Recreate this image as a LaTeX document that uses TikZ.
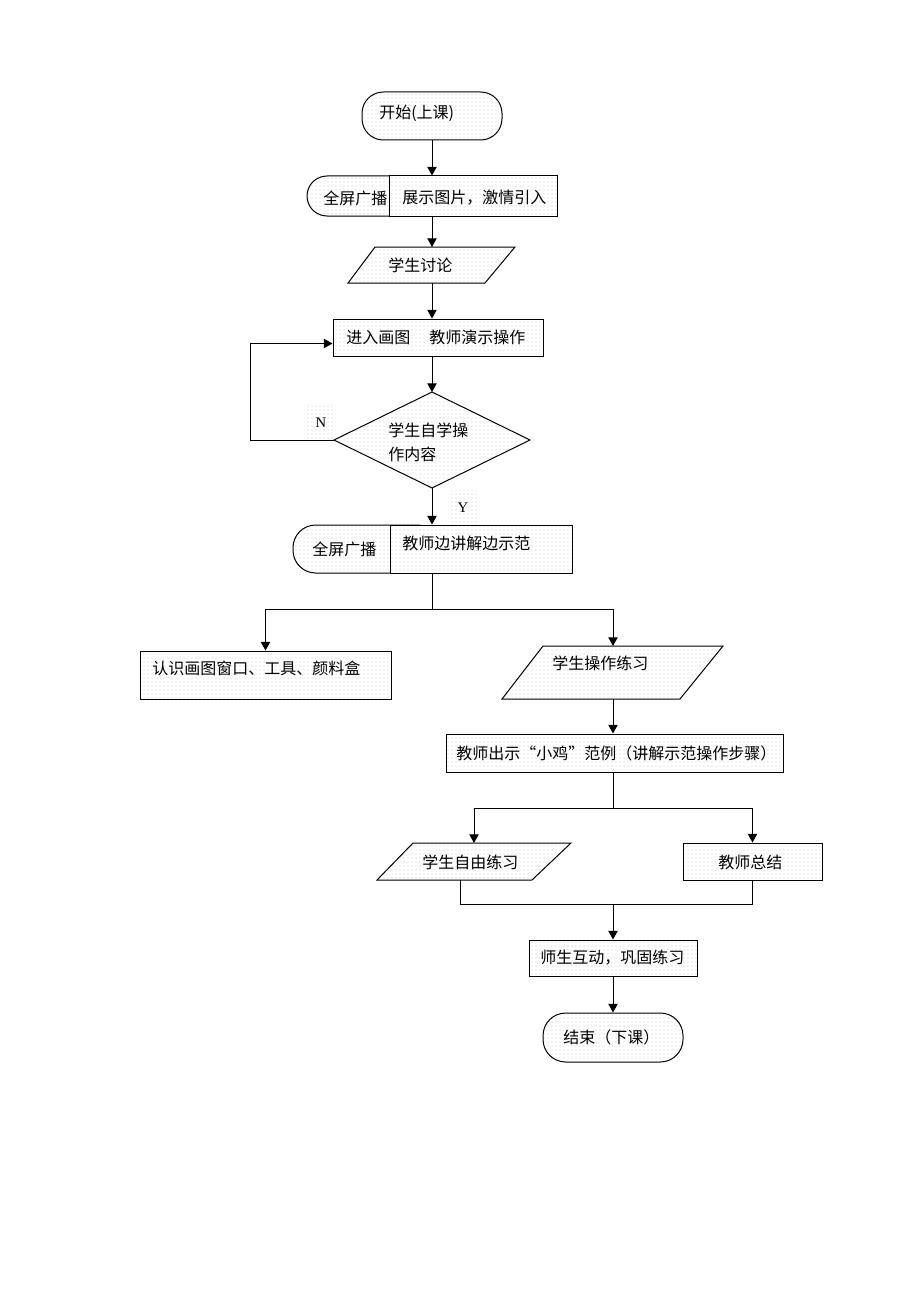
\documentclass[tikz,border=0pt]{standalone}
\usepackage{fontspec}
\newfontfamily\cjk{Noto Sans CJK SC}
\newfontfamily\tnr{Liberation Serif}
\usetikzlibrary{arrows.meta,patterns.meta,calc,fit}
\begin{document}
\begin{tikzpicture}[x=0.75pt,y=-0.75pt,
  shp/.style={draw, line width=0.75pt, preaction={fill=white},
    pattern={Dots[distance=3pt,radius=0.32pt]}, pattern color=black!55, inner sep=0pt},
  ghost/.style={inner sep=0pt, outer sep=0pt},
  txt/.style={anchor=west, inner sep=0pt, font=\cjk\fontsize{12}{14}\selectfont},
  lbl/.style={inner sep=1pt, font=\tnr\fontsize{11}{13}\selectfont,
    pattern={Dots[distance=3pt,radius=0.32pt]}, pattern color=black!55, minimum width=22pt, minimum height=26pt},
  arr/.style={line width=0.75pt, -{Triangle[length=6.5pt,width=7pt]}},
  ln/.style={line width=0.75pt}]
\useasboundingbox (0,0) rectangle (920,1302);
% start
\node[shp, rounded corners=16pt, fit={(362,92) (502,140)}] (start) {};
\node[txt] at (379,113) {开始(上课)};
% broadcast 1
\node[shp, rounded corners=15pt, fit={(307,176) (440,216)}] (c1) {};
\node[shp, fit={(389,176) (557,216)}] (b1) {};
\node[txt] at (323,198) {全屏广播};
\node[txt] at (402,198) {展示图片，激情引入};
% discussion parallelogram
\node[ghost, fit={(348,247) (515,283)}] (disc) {};
\draw[shp] ($(disc.north west)+(27,0)$) -- (disc.north east) -- ($(disc.south east)+(-30,0)$) -- (disc.south west) -- cycle;
\node[txt] at (388,265) {学生讨论};
% process
\node[shp, fit={(333,319) (543,356)}] (proc) {};
\node[txt] at (346,337) {进入画图\hspace{1.2em}教师演示操作};
% diamond
\node[ghost, fit={(334,392) (530,488)}] (dia) {};
\draw[shp] (dia.north) -- (dia.east) -- (dia.south) -- (dia.west) -- cycle;
\node[txt] at (388,430) {学生自学操};
\node[txt] at (388,454) {作内容};
\node[lbl] (nlab) at (321,423) {N};
\node[lbl] (ylab) at (463,508) {Y};
% broadcast 2
\node[shp, rounded corners=17pt, fit={(293,525) (440,573)}] (c2) {};
\node[shp, fit={(390,525) (572,573)}] (b2) {};
\node[txt] at (312,549) {全屏广播};
\node[txt] at (402,543) {教师边讲解边示范};
% left rect
\node[shp, fit={(140,651) (391,699)}] (lr) {};
\node[txt] at (152,668) {认识画图窗口、工具、颜料盒};
% practice parallelogram
\node[ghost, fit={(502,646) (723,699)}] (pp) {};
\draw[shp] ($(pp.north west)+(41,0)$) -- (pp.north east) -- ($(pp.south east)+(-43,0)$) -- (pp.south west) -- cycle;
\node[txt] at (552,663) {学生操作练习};
% demo
\node[shp, fit={(446,734) (783,772)}] (demo) {};
\node[txt] at (456,753) {教师出示“小鸡”范例（讲解示范操作步骤）};
% free practice parallelogram
\node[ghost, fit={(377,843) (571,880)}] (fp) {};
\draw[shp] ($(fp.north west)+(36,0)$) -- (fp.north east) -- ($(fp.south east)+(-39,0)$) -- (fp.south west) -- cycle;
\node[txt] at (422,862) {学生自由练习};
% teacher summary
\node[shp, fit={(683,843) (822,880)}] (ts) {};
\node[txt] at (718,862) {教师总结};
% interaction
\node[shp, fit={(529,940) (697,976)}] (int) {};
\node[txt] at (540,958) {师生互动，巩固练习};
% end
\node[shp, rounded corners=17pt, fit={(543,1013) (683,1062)}] (end) {};
\node[txt] at (563,1037) {结束（下课）};
% connectors
\draw[arr] (start.south -| 432,0) -- (b1.north -| 432,0);
\draw[arr] (b1.south -| 432,0) -- (disc.north -| 432,0);
\draw[arr] (disc.south -| 432,0) -- (proc.north -| 432,0);
\draw[arr] (proc.south -| dia.north) -- (dia.north);
\coordinate (loopin) at ($(proc.west)+(0,6)$);
\draw[arr] (dia.west) -- (250,440) |- (loopin);
\draw[arr] (dia.south) -- (b2.north -| dia.south);
\coordinate (s1) at (432,609);
\draw[ln] (b2.south -| 432,0) -- (s1);
\draw[arr] (s1) -| (lr.north);
\draw[arr] (s1) -| (pp.north -| 613,0);
\draw[arr] (pp.south -| 613,0) -- (demo.north -| 613,0);
\coordinate (s2) at (613,808);
\draw[ln] (demo.south -| 613,0) -- (s2);
\draw[arr] (s2) -| (fp.north);
\draw[arr] (s2) -| (ts.north);
\coordinate (m1) at (613,904);
\draw[ln] (fp.south -| 460,0) |- (m1);
\draw[ln] (ts.south) |- (m1);
\draw[arr] (m1) -- (int.north -| 613,0);
\draw[arr] (int.south -| 613,0) -- (end.north -| 613,0);
\end{tikzpicture}
\end{document}
